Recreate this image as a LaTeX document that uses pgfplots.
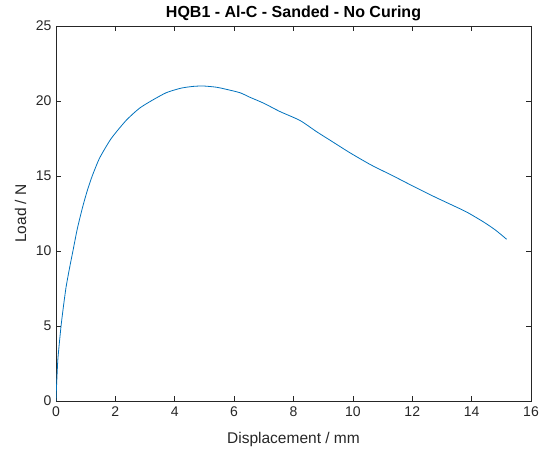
\documentclass[border=0pt]{standalone}
\usepackage{fontspec}
\setmainfont{Liberation Sans}
\usepackage{pgfplots}
\pgfplotsset{compat=1.18}
\definecolor{mblue}{rgb}{0,0.447,0.741}
\definecolor{axgray}{rgb}{0.15,0.15,0.15}
\begin{document}
\begin{tikzpicture}
\begin{axis}[
  name=ax,
  scale only axis,
  width=475bp, height=375bp,
  xmin=0, xmax=16, ymin=0, ymax=25,
  xtick={0,2,...,16}, ytick={0,5,...,25},
  tick align=inside,
  major tick length=5bp,
  axis line style={axgray, line width=0.6bp},
  every tick/.style={axgray, line width=0.6bp},
  tick label style={font=\fontsize{14bp}{16bp}\selectfont, text=axgray},
  /pgf/number format/assume math mode=true,
  xticklabel style={yshift=-2bp},
  yticklabel style={xshift=-1bp},
  xlabel={Displacement / mm},
  ylabel={Load / N},
  label style={font=\fontsize{15.5bp}{17bp}\selectfont, text=axgray},
  xlabel style={at={(axis description cs:0.5,0)}, anchor=center, yshift=-38bp},
  ylabel style={at={(axis description cs:0,0.5)}, anchor=center, yshift=35.5bp},
  title={HQB1 - Al-C - Sanded - No Curing},
  every axis title/.style={font=\bfseries\fontsize{16bp}{18bp}\selectfont, at={(axis description cs:0.5,1)}, anchor=center, yshift=13bp},
]
\addplot[mblue, line width=0.8bp, smooth, tension=0.4] coordinates {
(0,0) (0.01,0.6) (0.03,1.5) (0.06,2.7) (0.1,3.6) (0.17,5.0) (0.25,6.3)
(0.34,7.6) (0.45,8.8) (0.57,10.0) (0.72,11.5) (0.9,12.95) (1.05,14.0)
(1.22,15.0) (1.47,16.2) (1.86,17.5) (2.36,18.7) (2.8,19.5) (3.2,20.0)
(3.71,20.55) (4.2,20.85) (4.6,20.97) (4.96,21.0)
(5.4,20.92) (5.69,20.8) (6.2,20.55) (6.53,20.25) (7.0,19.85) (7.54,19.3)
(8.22,18.7) (8.78,17.95) (9.3,17.3) (9.9,16.55) (10.6,15.75) (11.36,15.0)
(12.0,14.35) (12.71,13.65) (13.3,13.1) (13.83,12.6) (14.39,11.95)
(14.8,11.4) (15.18,10.78)
};
\end{axis}
\path[use as bounding box] (ax.south west) ++(-56bp,-52bp) rectangle ++(544bp,453bp);
\end{tikzpicture}
\end{document}
